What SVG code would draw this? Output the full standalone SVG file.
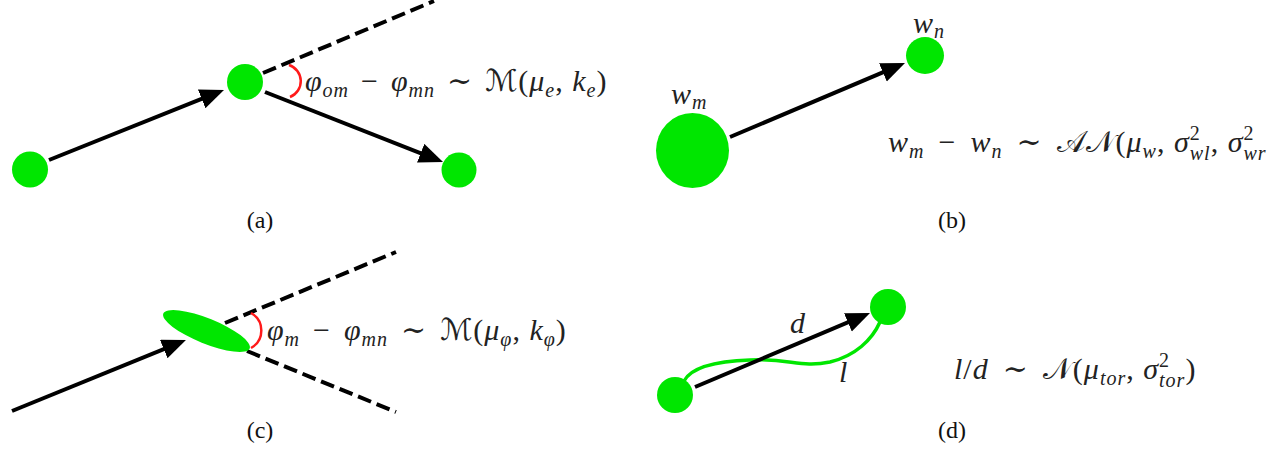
<svg xmlns="http://www.w3.org/2000/svg" width="1275" height="453" viewBox="0 0 1275 453">
<style>
.node{fill:#00e600}
.arrow{stroke:#000;stroke-width:4;fill:none;marker-end:url(#ah)}
.dash{stroke:#000;stroke-width:4;fill:none;stroke-dasharray:14 6}
.angle{stroke:#ff1a1a;stroke-width:2.5;fill:none}
.path{stroke:#00e600;stroke-width:3.5;fill:none}
.math{font-family:"Liberation Serif","DejaVu Serif",serif;fill:#222;font-size:30px;letter-spacing:1px}
.i{font-style:italic}
.s{font-size:20px}
.cal{font-family:"DejaVu Serif","DejaVu Sans",serif;font-style:normal}
.cap{font-family:"Liberation Serif",serif;font-size:24px;fill:#111;text-anchor:middle}
</style>
<defs>
<marker id="ah" markerUnits="userSpaceOnUse" markerWidth="26" markerHeight="22" refX="14" refY="10" orient="auto">
<path d="M0,0 L24,10 L0,20 Z" fill="#000"/>
</marker>
</defs>
<g id="connectors">
<line class="arrow" x1="49" y1="160" x2="214.7" y2="93.7"/>
<line class="arrow" x1="265" y1="92" x2="433.7" y2="158.3"/>
<line class="dash" x1="263" y1="73" x2="434" y2="1"/>
<path class="angle" d="M289,65 A17,17 0 0 1 290,97"/>
<line class="arrow" x1="730" y1="137" x2="895.8" y2="66.9"/>
<line class="arrow" x1="12" y1="411" x2="176.7" y2="343.8"/>
<line class="dash" x1="225" y1="323" x2="396" y2="252"/>
<line class="dash" x1="247" y1="351" x2="396" y2="412"/>
<path class="angle" d="M251,313 A20,20 0 0 1 251,348"/>
<path class="path" d="M684,381 C692,366 720,361 750,360 C790,358 800,368 830,362 C855,356 872,340 880,322"/>
<line class="arrow" x1="695" y1="387" x2="860.8" y2="316.9"/>
</g>
<g id="node-a1"><circle class="node" cx="30" cy="169.5" r="18"/></g>
<g id="node-a2"><circle class="node" cx="245" cy="82" r="18"/></g>
<g id="node-a3"><circle class="node" cx="459" cy="170" r="17.5"/></g>
<g id="node-b-wm"><ellipse class="node" cx="692.5" cy="150.5" rx="36.5" ry="37.5"/></g>
<g id="node-b-wn"><ellipse class="node" cx="925" cy="55.5" rx="19" ry="18.5"/></g>
<g id="node-c"><ellipse class="node" cx="206.5" cy="331" rx="46.6" ry="12.6" transform="rotate(22 206.5 331)"/></g>
<g id="node-d1"><circle class="node" cx="675" cy="395" r="18"/></g>
<g id="node-d2"><circle class="node" cx="888" cy="307" r="18"/></g>
<g id="labels">
<text class="math" x="305" y="91"><tspan class="i">φ</tspan><tspan class="i s" dy="6">om</tspan><tspan dx="12" dy="-6">−</tspan><tspan class="i" dx="12">φ</tspan><tspan class="i s" dy="6">mn</tspan><tspan dx="12" dy="-6">∼</tspan><tspan class="cal" dx="12">ℳ</tspan><tspan>(</tspan><tspan class="i">μ</tspan><tspan class="i s" dy="6">e</tspan><tspan dy="-6">, </tspan><tspan class="i">k</tspan><tspan class="i s" dy="6">e</tspan><tspan dy="-6">)</tspan></text>
<text class="math i" x="671" y="104">w<tspan class="s" dy="5">m</tspan></text>
<text class="math i" x="913" y="33">w<tspan class="s" dy="5">n</tspan></text>
<text class="math" x="888" y="152"><tspan class="i">w</tspan><tspan class="i s" dy="6">m</tspan><tspan dx="14" dy="-6">−</tspan><tspan class="i" dx="14">w</tspan><tspan class="i s" dy="6">n</tspan><tspan dx="14" dy="-6">∼</tspan><tspan class="cal" dx="14">𝒜𝒩</tspan><tspan>(</tspan><tspan class="i">μ</tspan><tspan class="i s" dy="6">w</tspan><tspan dy="-6">, </tspan><tspan class="i">σ</tspan><tspan class="s" dy="-12">2</tspan><tspan class="i s" dx="-11" dy="20">wl</tspan><tspan dy="-8">, </tspan><tspan class="i">σ</tspan><tspan class="s" dy="-12">2</tspan><tspan class="i s" dx="-11" dy="20">wr</tspan></text>
<text class="math" x="267" y="340"><tspan class="i">φ</tspan><tspan class="i s" dy="6">m</tspan><tspan dx="13" dy="-6">−</tspan><tspan class="i" dx="13">φ</tspan><tspan class="i s" dy="6">mn</tspan><tspan dx="13" dy="-6">∼</tspan><tspan class="cal" dx="13">ℳ</tspan><tspan>(</tspan><tspan class="i">μ</tspan><tspan class="i s" dy="6">φ</tspan><tspan dy="-6">, </tspan><tspan class="i">k</tspan><tspan class="i s" dy="6">φ</tspan><tspan dy="-6">)</tspan></text>
<text class="math i" x="790" y="333">d</text>
<text class="math i" x="839" y="382">l</text>
<text class="math" x="954" y="379"><tspan class="i">l</tspan><tspan>/</tspan><tspan class="i">d</tspan><tspan dx="14">∼</tspan><tspan class="cal" dx="14">𝒩</tspan><tspan>(</tspan><tspan class="i">μ</tspan><tspan class="i s" dy="6">tor</tspan><tspan dy="-6">, </tspan><tspan class="i">σ</tspan><tspan class="s" dy="-12">2</tspan><tspan class="i s" dx="-11" dy="20">tor</tspan><tspan dy="-8">)</tspan></text>
<text class="cap" x="260" y="228">(a)</text>
<text class="cap" x="952" y="228">(b)</text>
<text class="cap" x="260" y="438">(c)</text>
<text class="cap" x="952" y="438">(d)</text>
</g>
</svg>
